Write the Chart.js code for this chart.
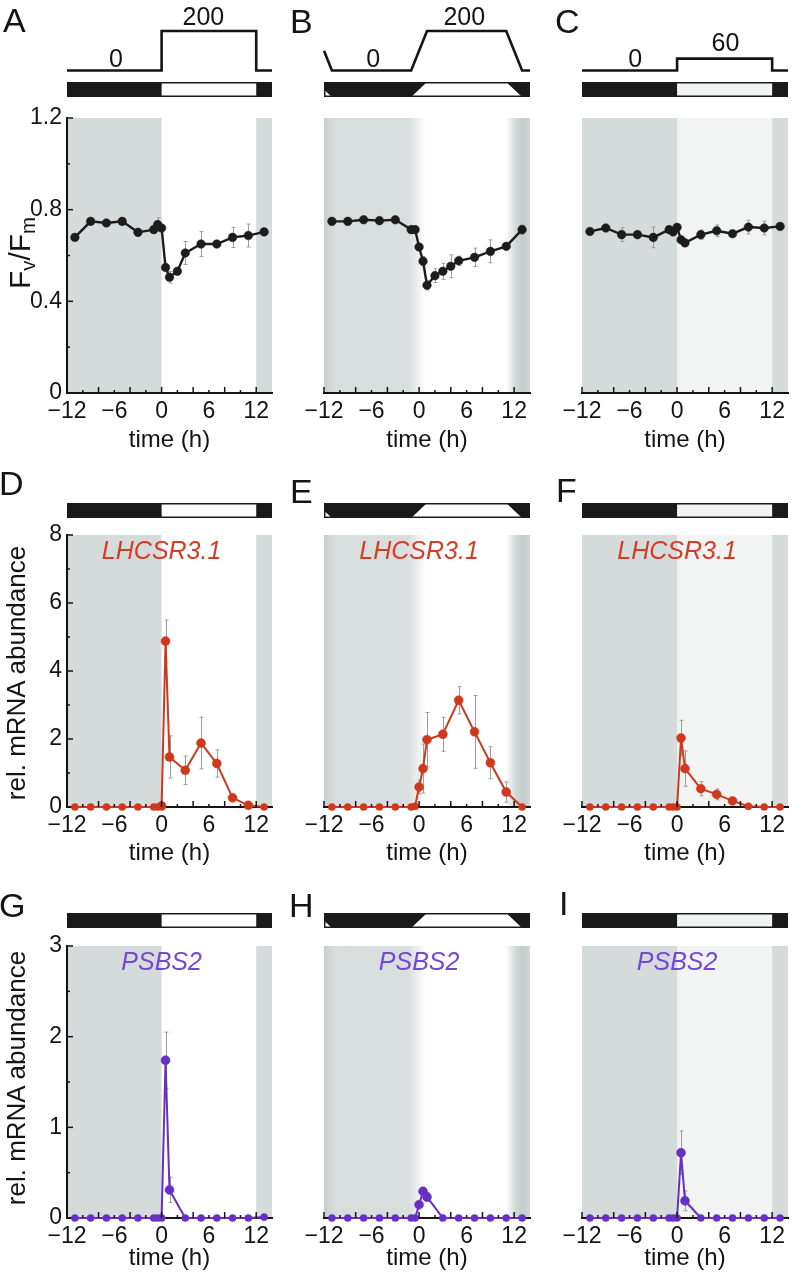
<!DOCTYPE html>
<html><head><meta charset="utf-8">
<script src="https://cdn.jsdelivr.net/npm/chart.js@4.4.1/dist/chart.umd.min.js"></script>
<style>
body{margin:0;background:#fff;width:793px;height:1281px;position:relative;overflow:hidden;font-family:"Liberation Sans",Arial,Helvetica,sans-serif;color:#141414}
canvas{position:absolute}
.t{position:absolute;white-space:nowrap;line-height:1}
.rot{position:absolute;white-space:nowrap;line-height:1;transform:translate(-50%,-50%) rotate(-90deg)}
sub{font-size:0.68em;vertical-align:-0.25em;line-height:0}
</style></head><body>
<script>
// ---------------- data ----------------
const timeA = [-11,-9,-7,-5,-3,-1,-0.5,0,0.5,1,2,3,5,7,9,11,13];
const fvA   = [0.679,0.749,0.742,0.749,0.701,0.713,0.735,0.720,0.548,0.505,0.531,0.611,0.650,0.650,0.679,0.687,0.703];
const errA  = [0.01,0.01,0.01,0.01,0.01,0.015,0.03,0.01,0.01,0.025,0.015,0.05,0.054,0.01,0.044,0.05,0.01];

const timeB = [-11,-9,-7,-5,-3,-1,-0.5,0,0.5,1,2,3,4,5,7,9,11,13];
const fvB   = [0.749,0.749,0.756,0.752,0.756,0.713,0.713,0.637,0.575,0.470,0.512,0.531,0.553,0.577,0.592,0.618,0.640,0.713];
const errB  = [0.01,0.015,0.015,0.01,0.01,0.01,0.01,0.01,0.02,0.02,0.03,0.035,0.05,0.02,0.04,0.05,0.01,0.02];

const timeC = [-11,-9,-7,-5,-3,-1,-0.5,0,0.5,1,3,5,7,9,11,13];
const fvC   = [0.705,0.720,0.691,0.691,0.679,0.713,0.703,0.723,0.669,0.655,0.691,0.708,0.695,0.724,0.720,0.727];
const errC  = [0.01,0.01,0.03,0.01,0.045,0.01,0.01,0.01,0.01,0.01,0.02,0.025,0.01,0.03,0.03,0.01];

const timeRNA = [-11,-9,-7,-5,-3,-1,-0.5,0,0.5,1,3,5,7,9,11,13];
const lhcD    = [0,0,0,0,0,0,0,0.03,4.88,1.47,1.08,1.88,1.28,0.27,0.05,0];
const errLhcD = [0,0,0,0,0,0,0,0,0.62,0.62,0.42,0.76,0.40,0.05,0.03,0];
const lhcE    = [0,0,0,0,0,0,0.02,0.59,1.13,1.98,2.14,3.14,2.21,1.30,0.44,0];
const errLhcE = [0,0,0,0,0,0,0.03,0.2,0.72,0.8,0.5,0.4,1.07,0.47,0.3,0];
const lhcF    = [0,0,0,0,0,0,0,0,2.03,1.13,0.54,0.37,0.18,0.02,0,0];
const errLhcF = [0,0,0,0,0,0,0,0,0.52,0.52,0.21,0.16,0.05,0.02,0,0];
const psbG    = [0,0,0,0,0,0,0,0,1.74,0.31,0,0,0,0,0,0.01];
const errPsbG = [0,0,0,0,0,0,0,0,0.31,0.14,0,0,0,0,0,0];
const psbH    = [0,0,0,0,0,0,0,0.147,0.294,0.232,0,0,0,0,0,0];
const errPsbH = [0,0,0,0,0,0,0,0.03,0.03,0.05,0,0,0,0,0,0];
const psbI    = [0,0,0,0,0,0,0,0,0.72,0.19,0,0,0,0,0,0];
const errPsbI = [0,0,0,0,0,0,0,0,0.24,0.11,0,0,0,0,0,0];

// light regime (time h, intensity)
const lightStepT = [-12,0,0,12,12,14];
const light200   = [0,0,200,200,0,0];
const light60    = [0,0,60,60,0,0];
const lightRampT = [-12,-11,-1,1,11,13,14];
const lightRamp  = [100,0,0,200,200,0,0];

// ticks
const xTickValues  = [-12,-10,-8,-6,-4,-2,0,2,4,6,8,10,12,14];
const xTickLabels  = [-12,-6,0,6,12];
const fvTickValues = [0,0.2,0.4,0.6,0.8,1.0,1.2];
const fvTickLabels = [0,0.4,0.8,1.2];
const lhcTickValues = [0,1,2,3,4,5,6,7,8];
const lhcTickLabels = [0,2,4,6,8];
const psbTickValues = [0,0.5,1,1.5,2,2.5,3];
const psbTickLabels = [0,1,2,3];

// ---------------- style / layout ----------------
const FONT = '"Liberation Sans", Arial, Helvetica, sans-serif';
const INK = '#141414', DARK = '#d5dbdb', DIM = '#f2f4f4';
const BLACK_LINE = '#1c1c1c', RED = '#d0381e', PURPLE = '#6630c4';
const RED_LABEL = '#d43c24', PURPLE_LABEL = '#7447d8';
const rampStops = [[-12,'#c4cccc'],[-11.3,'#d2d8d8'],[-10.6,'#d7dcdc'],[-1.4,'#d8dddd'],[0.9,'#ffffff'],[10.9,'#ffffff'],[12.2,'#d2d8d8'],[12.9,'#c5cdcd'],[13.5,'#c8cfcf'],[14,'#d4dada']];

const cols = [
  {left:0,   width:282, plotL:67,  plotR:272},
  {left:282, width:258, plotL:324, plotR:530},
  {left:540, width:253, plotL:582, plotR:788}
];
const rows = [
  {top:0,   height:460, plotT:118, plotB:393, titlePad:5, barTop:82},
  {top:460, height:410, plotT:535, plotB:807, titlePad:2, barTop:503},
  {top:870, height:411, plotT:946, plotB:1218, titlePad:8, barTop:913}
];

const panels = [
  {col:0,row:0,t:timeA,v:fvA,e:errA,color:BLACK_LINE,ymax:1.2,yt:fvTickValues,yl:fvTickLabels,shade:'step',lt:lightStepT,li:light200,norm:200,plabels:[['0',-5.8,67],['200',5.3,25]]},
  {col:1,row:0,t:timeB,v:fvB,e:errB,color:BLACK_LINE,ymax:1.2,yt:fvTickValues,yl:fvTickLabels,shade:'ramp',lt:lightRampT,li:lightRamp,norm:200,plabels:[['0',-5.8,67],['200',5.7,25]]},
  {col:2,row:0,t:timeC,v:fvC,e:errC,color:BLACK_LINE,ymax:1.2,yt:fvTickValues,yl:fvTickLabels,shade:'dim',lt:lightStepT,li:light60,norm:60,plabels:[['0',-5.3,67],['60',6.1,51]]},
  {col:0,row:1,t:timeRNA,v:lhcD,e:errLhcD,color:RED,ymax:8,yt:lhcTickValues,yl:lhcTickLabels,shade:'step',lt:lightStepT,li:light200,norm:200,gene:'LHCSR3.1',gc:RED_LABEL},
  {col:1,row:1,t:timeRNA,v:lhcE,e:errLhcE,color:RED,ymax:8,yt:lhcTickValues,yl:lhcTickLabels,shade:'ramp',lt:lightRampT,li:lightRamp,norm:200,gene:'LHCSR3.1',gc:RED_LABEL},
  {col:2,row:1,t:timeRNA,v:lhcF,e:errLhcF,color:RED,ymax:8,yt:lhcTickValues,yl:lhcTickLabels,shade:'dim',lt:lightStepT,li:light60,norm:60,gene:'LHCSR3.1',gc:RED_LABEL},
  {col:0,row:2,t:timeRNA,v:psbG,e:errPsbG,color:PURPLE,ymax:3,yt:psbTickValues,yl:psbTickLabels,shade:'step',lt:lightStepT,li:light200,norm:200,gene:'PSBS2',gc:PURPLE_LABEL},
  {col:1,row:2,t:timeRNA,v:psbH,e:errPsbH,color:PURPLE,ymax:3,yt:psbTickValues,yl:psbTickLabels,shade:'ramp',lt:lightRampT,li:lightRamp,norm:200,gene:'PSBS2',gc:PURPLE_LABEL},
  {col:2,row:2,t:timeRNA,v:psbI,e:errPsbI,color:PURPLE,ymax:3,yt:psbTickValues,yl:psbTickLabels,shade:'dim',lt:lightStepT,li:light60,norm:60,gene:'PSBS2',gc:PURPLE_LABEL}
];

const fmt = v => (v < 0 ? '\u2212' : '') + String(Math.round(Math.abs(v) * 10) / 10);
const has = (arr, v) => arr.some(a => Math.abs(a - v) < 1e-6);

const deco = {
  id: 'deco',
  beforeDraw(chart, args, opts) {
    const p = opts.panel, ctx = chart.ctx, a = chart.chartArea, xs = chart.scales.x;
    const w = a.right - a.left, h = a.bottom - a.top;
    ctx.save();
    if (p.shade === 'ramp') {
      const g = ctx.createLinearGradient(a.left, 0, a.right, 0);
      rampStops.forEach(([t, c]) => g.addColorStop(Math.min(1, Math.max(0, (xs.getPixelForValue(t) - a.left) / w)), c));
      ctx.fillStyle = g;
      ctx.fillRect(a.left, a.top, w, h);
    } else {
      ctx.fillStyle = DARK;
      ctx.fillRect(a.left, a.top, w, h);
      const l = xs.getPixelForValue(0), r = xs.getPixelForValue(12);
      ctx.fillStyle = p.shade === 'dim' ? DIM : '#ffffff';
      ctx.fillRect(l, a.top, r - l, h);
    }
    ctx.restore();
  },
  beforeDatasetsDraw(chart, args, opts) {
    const p = opts.panel, ctx = chart.ctx, xs = chart.scales.x, ys = chart.scales.y;
    ctx.save();
    ctx.strokeStyle = '#9a9e9e'; ctx.lineWidth = 1;
    p.t.forEach((t, i) => {
      const e = p.e[i]; if (!e) return;
      const px = Math.round(xs.getPixelForValue(t)) + 0.5;
      const y1 = ys.getPixelForValue(p.v[i] + e), y2 = ys.getPixelForValue(Math.max(0, p.v[i] - e));
      ctx.beginPath();
      ctx.moveTo(px, y1); ctx.lineTo(px, y2);
      ctx.moveTo(px - 2, y1); ctx.lineTo(px + 2, y1);
      ctx.moveTo(px - 2, y2); ctx.lineTo(px + 2, y2);
      ctx.stroke();
    });
    ctx.restore();
  },
  afterDraw(chart, args, opts) {
    const p = opts.panel, r = rows[p.row], ctx = chart.ctx, a = chart.chartArea;
    const xs = chart.scales.x, ys = chart.scales.y;
    ctx.save();
    // inward tick marks
    ctx.strokeStyle = INK; ctx.lineWidth = 1.5;
    xs.ticks.forEach(tk => {
      if (tk.value >= 14) return;
      const px = xs.getPixelForValue(tk.value);
      const len = (tk.value % 4 === 0) ? 6 : 3;
      ctx.beginPath(); ctx.moveTo(px, a.bottom); ctx.lineTo(px, a.bottom - len); ctx.stroke();
    });
    if (p.col === 0) {
      ys.ticks.forEach(tk => {
        if (tk.value <= 0) return;
        const py = ys.getPixelForValue(tk.value);
        const len = has(p.yl, tk.value) ? 6 : 3;
        ctx.beginPath(); ctx.moveTo(a.left, py); ctx.lineTo(a.left + len, py); ctx.stroke();
      });
    }
    // light/dark bar
    const bt = r.barTop - r.top, bh = 15, bl = a.left, br = a.right;
    ctx.fillStyle = '#1a1a1a';
    ctx.fillRect(bl, bt, br - bl, bh);
    ctx.save();
    ctx.beginPath(); ctx.rect(bl + 1.5, bt + 1.5, br - bl - 3, bh - 3); ctx.clip();
    ctx.beginPath();
    ctx.moveTo(xs.getPixelForValue(p.lt[0]), bt + bh);
    p.lt.forEach((t, i) => ctx.lineTo(xs.getPixelForValue(t), bt + bh - (p.li[i] / p.norm) * bh));
    ctx.lineTo(xs.getPixelForValue(p.lt[p.lt.length - 1]), bt + bh);
    ctx.closePath();
    ctx.fillStyle = p.shade === 'dim' ? DIM : '#ffffff';
    ctx.fill();
    ctx.restore();
    // light intensity profile (top row)
    if (p.row === 0) {
      const base = 70.5, k = 39.5 / 200;
      ctx.lineWidth = 2.6; ctx.strokeStyle = INK; ctx.lineJoin = 'miter';
      ctx.beginPath();
      p.lt.forEach((t, i) => {
        const px = xs.getPixelForValue(t), py = base - p.li[i] * k;
        if (i) ctx.lineTo(px, py); else ctx.moveTo(px, py);
      });
      ctx.stroke();
      ctx.fillStyle = INK; ctx.font = '25px ' + FONT; ctx.textAlign = 'center'; ctx.textBaseline = 'alphabetic';
      p.plabels.forEach(([txt, t, yb]) => ctx.fillText(txt, xs.getPixelForValue(t), yb - r.top));
    }
    if (p.gene) {
      ctx.font = 'italic 25px ' + FONT; ctx.fillStyle = p.gc; ctx.textAlign = 'center'; ctx.textBaseline = 'alphabetic';
      ctx.fillText(p.gene, xs.getPixelForValue(0), a.top + 24);
    }
    ctx.restore();
  }
};

panels.forEach(p => {
  const c = cols[p.col], r = rows[p.row];
  const cv = document.createElement('canvas');
  cv.width = c.width; cv.height = r.height;
  cv.style.left = c.left + 'px'; cv.style.top = r.top + 'px';
  cv.style.width = c.width + 'px'; cv.style.height = r.height + 'px';
  document.body.appendChild(cv);
  const showY = p.col === 0;
  const rad = ctx => (ctx.raw && ctx.raw.y > 0.02) ? 4.5 : 3.6;
  new Chart(cv, {
    type: 'line',
    data: { datasets: [{
      data: p.t.map((t, i) => ({x: t, y: p.v[i]})),
      borderColor: p.color, backgroundColor: p.color,
      borderWidth: p.row === 0 ? 2.4 : 2,
      pointRadius: p.row === 0 ? 4.3 : rad,
      pointBackgroundColor: p.color, pointBorderColor: p.color, pointBorderWidth: 0.5,
      tension: 0, fill: false, clip: 8
    }]},
    options: {
      responsive: false, animation: false, devicePixelRatio: 1,
      layout: { padding: { left: 0, right: c.left + c.width - c.plotR, top: r.plotT - r.top, bottom: 0 } },
      plugins: { legend: {display: false}, tooltip: {enabled: false}, deco: {panel: p} },
      scales: {
        x: {
          type: 'linear', min: -12, max: 14,
          afterBuildTicks: s => { s.ticks = xTickValues.map(v => ({value: v})); },
          afterFit: s => { s.height = r.height - (r.plotB - r.top); },
          grid: {display: false, drawTicks: false},
          border: {display: true, color: INK, width: 2},
          ticks: {autoSkip: false, maxRotation: 0, padding: 5, color: INK, font: {size: 23, family: FONT},
                  callback: v => has(xTickLabels, v) ? fmt(v) : ''},
          title: {display: true, text: 'time (h)', color: INK, font: {size: 24, family: FONT}, padding: {top: 0, bottom: r.titlePad}}
        },
        y: {
          type: 'linear', min: 0, max: p.ymax,
          afterBuildTicks: s => { s.ticks = p.yt.map(v => ({value: v})); },
          afterFit: s => { s.width = c.plotL - c.left; },
          grid: {display: false, drawTicks: false},
          border: {display: showY, color: INK, width: 2},
          ticks: {display: showY, autoSkip: false, padding: 5, color: INK, font: {size: 23, family: FONT},
                  callback: v => has(p.yl, v) ? fmt(v) : ''}
        }
      }
    },
    plugins: [deco]
  });
});

// ---------------- HTML text: panel letters and y titles ----------------
function txt(html, x, baseline, size, extra) {
  const d = document.createElement('div');
  d.className = 't';
  d.innerHTML = html;
  d.style.left = x + 'px';
  d.style.top = (baseline - 0.8465 * size) + 'px';
  d.style.fontSize = size + 'px';
  if (extra) Object.assign(d.style, extra);
  document.body.appendChild(d);
}
function rot(html, cx, cy, size) {
  const d = document.createElement('div');
  d.className = 'rot';
  d.innerHTML = html;
  d.style.left = cx + 'px'; d.style.top = cy + 'px'; d.style.fontSize = size + 'px';
  document.body.appendChild(d);
}
[['A',3,32],['B',290,33],['C',555,33],['D',-1,495],['E',290,503],['F',556,502],['G',-1,917],['H',289,917],['I',559,915]]
  .forEach(([l, x, b]) => txt(l, x, b, 34));
rot('F<sub>v</sub>/F<sub>m</sub>', 20, 253, 30);
rot('rel. mRNA abundance', 16, 673, 26);
rot('rel. mRNA abundance', 16, 1078, 26);
</script>
</body></html>
